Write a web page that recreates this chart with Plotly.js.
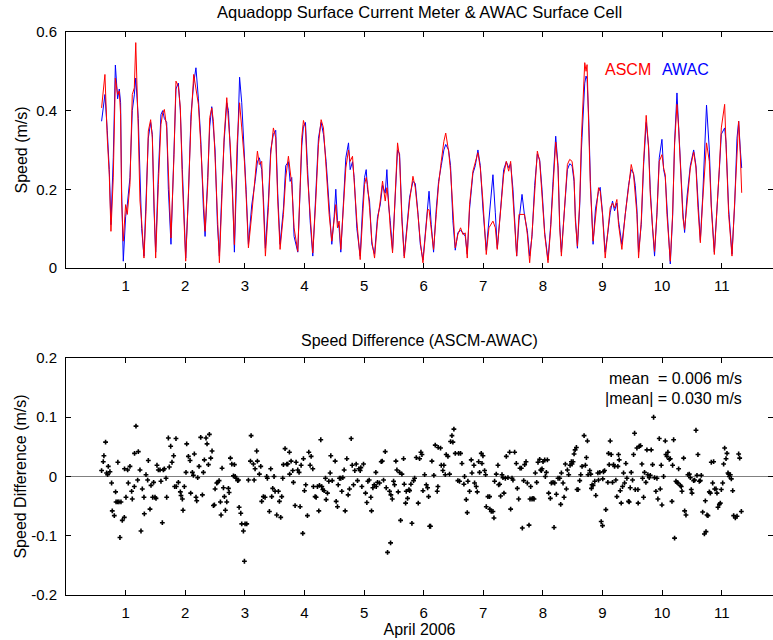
<!DOCTYPE html>
<html>
<head>
<meta charset="utf-8">
<script src="https://cdn.plot.ly/plotly-3.0.1.min.js"></script>
<style>html,body{margin:0;padding:0;background:#fff;}#chart{width:773px;height:640px;}</style>
</head>
<body>
<div id="chart"></div>
<script>
// ---- Top panel: surface speed (m/s) vs day of April 2006 ----
var topDays = [0.597,0.653,0.692,0.726,0.754,0.793,0.828,0.866,0.894,0.916,0.933,0.961,1.000,1.028,1.073,1.112,1.146,1.170,1.213,1.241,1.269,1.308,1.342,1.381,1.420,1.448,1.476,1.504,1.549,1.593,1.622,1.650,1.689,1.717,1.761,1.812,1.845,1.885,1.918,1.952,2.008,2.053,2.097,2.142,2.180,2.221,2.260,2.305,2.333,2.377,2.411,2.445,2.473,2.501,2.540,2.573,2.613,2.652,2.697,2.725,2.758,2.792,2.825,2.870,2.912,2.948,2.993,3.021,3.060,3.116,3.172,3.211,3.244,3.283,3.311,3.345,3.395,3.434,3.479,3.518,3.552,3.591,3.647,3.686,3.731,3.759,3.787,3.826,3.888,3.927,3.955,3.983,4.017,4.050,4.095,4.140,4.190,4.235,4.280,4.319,4.364,4.414,4.459,4.498,4.526,4.554,4.582,4.610,4.655,4.694,4.739,4.767,4.806,4.834,4.879,4.935,4.974,5.008,5.036,5.058,5.092,5.131,5.176,5.226,5.271,5.310,5.355,5.383,5.411,5.439,5.478,5.523,5.562,5.596,5.635,5.674,5.719,5.764,5.820,5.859,5.904,5.943,5.988,6.027,6.066,6.090,6.127,6.166,6.211,6.250,6.295,6.339,6.370,6.418,6.451,6.490,6.530,6.574,6.619,6.658,6.698,6.731,6.770,6.826,6.866,6.910,6.950,6.994,7.050,7.095,7.162,7.202,7.235,7.291,7.342,7.386,7.426,7.459,7.498,7.560,7.599,7.650,7.694,7.739,7.778,7.817,7.862,7.907,7.946,7.985,8.030,8.086,8.131,8.170,8.215,8.254,8.282,8.310,8.366,8.411,8.450,8.489,8.523,8.545,8.579,8.618,8.646,8.674,8.702,8.724,8.741,8.769,8.797,8.842,8.882,8.933,8.961,9.000,9.045,9.090,9.129,9.168,9.202,9.241,9.269,9.325,9.381,9.437,9.482,9.521,9.549,9.577,9.605,9.650,9.689,9.733,9.773,9.801,9.840,9.873,9.913,9.952,9.997,10.025,10.053,10.081,10.137,10.176,10.209,10.249,10.277,10.316,10.349,10.377,10.417,10.473,10.529,10.568,10.601,10.641,10.680,10.745,10.792,10.825,10.876,10.920,10.960,10.993,11.049,11.072,11.116,11.172,11.217,11.256,11.284,11.312,11.335];
var ascmSpeed = [0.407,0.492,0.331,0.237,0.093,0.229,0.483,0.441,0.450,0.390,0.170,0.068,0.161,0.136,0.212,0.441,0.458,0.573,0.348,0.170,0.119,0.025,0.144,0.348,0.377,0.331,0.170,0.025,0.212,0.365,0.394,0.403,0.356,0.229,0.076,0.288,0.475,0.462,0.407,0.221,0.017,0.187,0.373,0.492,0.460,0.416,0.314,0.178,0.093,0.212,0.382,0.407,0.373,0.280,0.136,0.013,0.170,0.331,0.433,0.382,0.305,0.187,0.059,0.314,0.420,0.356,0.271,0.187,0.051,0.136,0.237,0.297,0.263,0.271,0.161,0.030,0.153,0.288,0.356,0.331,0.170,0.047,0.136,0.229,0.284,0.246,0.212,0.102,0.042,0.204,0.331,0.375,0.356,0.237,0.136,0.038,0.170,0.314,0.377,0.356,0.254,0.136,0.068,0.119,0.161,0.102,0.119,0.047,0.170,0.254,0.300,0.271,0.284,0.212,0.119,0.021,0.136,0.212,0.230,0.212,0.153,0.068,0.025,0.119,0.170,0.221,0.170,0.204,0.170,0.102,0.038,0.212,0.318,0.280,0.119,0.025,0.102,0.170,0.233,0.204,0.136,0.068,0.013,0.085,0.148,0.148,0.093,0.047,0.136,0.212,0.271,0.322,0.343,0.297,0.246,0.136,0.051,0.085,0.102,0.085,0.089,0.025,0.161,0.246,0.271,0.293,0.254,0.170,0.034,0.102,0.119,0.102,0.047,0.153,0.237,0.271,0.246,0.271,0.187,0.030,0.136,0.136,0.136,0.085,0.013,0.085,0.204,0.297,0.271,0.195,0.085,0.013,0.102,0.204,0.320,0.254,0.102,0.030,0.170,0.263,0.276,0.271,0.229,0.119,0.055,0.170,0.331,0.424,0.522,0.500,0.517,0.356,0.204,0.068,0.136,0.204,0.195,0.136,0.025,0.102,0.153,0.165,0.153,0.174,0.110,0.047,0.136,0.204,0.263,0.237,0.195,0.136,0.025,0.119,0.271,0.388,0.305,0.187,0.102,0.042,0.136,0.271,0.288,0.254,0.237,0.136,0.017,0.136,0.314,0.416,0.356,0.229,0.127,0.098,0.170,0.254,0.295,0.254,0.153,0.064,0.170,0.318,0.271,0.153,0.034,0.136,0.254,0.356,0.416,0.314,0.136,0.030,0.170,0.322,0.373,0.288,0.191];
var awacSpeed = [0.373,0.441,0.350,0.250,0.110,0.280,0.516,0.430,0.455,0.420,0.200,0.017,0.130,0.160,0.230,0.400,0.440,0.483,0.380,0.200,0.100,0.030,0.160,0.330,0.370,0.340,0.150,0.040,0.240,0.390,0.400,0.380,0.370,0.200,0.060,0.300,0.455,0.470,0.400,0.250,0.025,0.180,0.390,0.470,0.509,0.430,0.330,0.150,0.080,0.230,0.360,0.410,0.360,0.300,0.110,0.030,0.190,0.320,0.420,0.400,0.290,0.200,0.040,0.300,0.485,0.420,0.300,0.200,0.060,0.160,0.220,0.270,0.280,0.250,0.180,0.050,0.170,0.300,0.340,0.350,0.190,0.060,0.150,0.260,0.270,0.220,0.230,0.080,0.040,0.190,0.310,0.360,0.370,0.260,0.120,0.030,0.180,0.330,0.370,0.340,0.270,0.150,0.060,0.130,0.200,0.120,0.100,0.040,0.190,0.280,0.318,0.250,0.270,0.230,0.100,0.030,0.150,0.230,0.250,0.200,0.170,0.060,0.035,0.130,0.160,0.210,0.190,0.250,0.160,0.120,0.045,0.200,0.300,0.290,0.130,0.030,0.110,0.180,0.220,0.215,0.140,0.060,0.020,0.090,0.170,0.195,0.110,0.040,0.150,0.220,0.260,0.300,0.314,0.300,0.260,0.120,0.045,0.090,0.095,0.090,0.080,0.035,0.150,0.240,0.260,0.300,0.260,0.150,0.045,0.130,0.237,0.140,0.050,0.150,0.250,0.270,0.255,0.265,0.200,0.030,0.120,0.187,0.130,0.095,0.030,0.080,0.210,0.290,0.275,0.200,0.090,0.020,0.110,0.220,0.335,0.260,0.110,0.040,0.160,0.250,0.265,0.260,0.220,0.130,0.050,0.160,0.300,0.400,0.470,0.488,0.480,0.380,0.220,0.060,0.150,0.195,0.205,0.140,0.040,0.090,0.140,0.170,0.145,0.165,0.120,0.060,0.130,0.210,0.250,0.240,0.210,0.150,0.040,0.110,0.260,0.370,0.310,0.200,0.100,0.030,0.140,0.280,0.327,0.250,0.230,0.160,0.010,0.130,0.320,0.445,0.360,0.220,0.140,0.090,0.180,0.260,0.300,0.260,0.160,0.070,0.180,0.414,0.300,0.160,0.040,0.140,0.250,0.340,0.356,0.320,0.150,0.035,0.160,0.330,0.373,0.300,0.254];

// ---- Bottom panel: speed difference ASCM-AWAC (m/s) ----
var diffDays = [
0.597,0.625,0.636,0.664,0.681,0.698,0.709,0.737,0.765,0.776,0.810,0.832,0.840,0.866,0.888,0.922,0.870,0.905,0.944,0.978,0.982,1.006,1.034,1.045,1.073,1.101,1.112,1.146,1.150,1.174,1.213,1.202,1.241,1.258,1.280,1.308,1.314,1.342,1.370,1.381,1.409,1.426,1.454,1.470,1.493,1.510,1.526,1.549,1.577,1.593,1.616,1.633,1.650,1.678,1.689,1.717,1.733,1.756,1.778,1.806,1.823,1.845,1.850,1.885,1.918,1.929,1.952,1.963,1.985,2.025,2.013,2.053,2.081,2.092,2.120,2.137,2.153,2.181,2.193,2.209,2.232,2.260,2.288,2.305,2.321,2.349,2.366,2.389,2.405,2.428,2.450,2.473,2.489,2.501,2.529,2.545,2.568,2.590,2.601,2.618,2.641,2.657,2.674,2.697,2.725,2.736,2.758,2.781,2.825,2.809,2.837,2.853,2.881,2.893,2.904,2.932,2.948,2.976,2.993,3.004,3.032,3.060,3.094,3.105,3.144,3.172,3.156,
3.199,3.211,3.244,3.267,3.283,3.311,3.339,3.367,3.378,3.412,3.434,3.451,3.468,3.490,3.507,3.535,3.563,3.580,3.602,3.619,3.636,3.647,3.675,3.703,3.720,3.748,3.752,3.776,3.804,3.815,3.843,3.860,3.888,3.910,3.927,3.944,3.972,3.983,4.000,4.022,4.050,4.073,4.095,4.112,4.140,4.151,4.179,4.196,4.218,4.241,4.252,4.274,4.291,4.308,4.330,4.353,4.364,4.386,4.409,4.431,4.442,4.465,4.515,4.532,4.554,4.566,4.588,4.610,4.627,4.644,4.666,4.683,4.711,4.733,4.756,4.784,4.801,4.823,4.845,4.868,4.890,4.913,4.935,4.946,4.963,4.991,5.025,5.047,5.064,5.086,5.114,5.125,5.148,5.170,5.198,5.204,5.226,5.260,5.288,5.305,5.327,5.355,5.372,5.394,5.428,5.445,5.450,5.473,5.495,5.512,5.534,5.551,5.573,5.596,5.613,5.635,5.663,5.674,5.697,5.708,5.730,5.753,5.764,5.786,5.803,5.831,5.848,5.876,5.909,5.932,5.954,5.971,5.988,6.016,6.044,6.066,6.083,6.100,
6.115,6.138,6.171,6.194,6.227,6.239,6.243,6.283,6.295,6.322,6.339,6.362,6.378,6.407,6.434,6.451,6.474,6.490,6.507,6.530,6.574,6.586,6.602,6.619,6.642,6.675,6.686,6.714,6.731,6.742,6.770,6.798,6.810,6.843,6.854,6.882,6.899,6.922,6.938,6.966,6.978,6.994,7.022,7.039,7.050,7.078,7.106,7.110,7.134,7.162,7.179,7.190,7.218,7.246,7.258,7.274,7.291,7.314,7.330,7.347,7.370,7.386,7.414,7.442,7.459,7.482,7.498,7.526,7.554,7.571,7.594,7.616,7.638,7.655,7.678,7.694,7.717,7.739,7.767,7.784,7.795,7.817,7.834,7.851,7.873,7.896,7.918,7.946,7.963,7.974,7.985,8.002,8.030,8.041,8.058,8.075,8.097,8.125,8.142,8.170,8.187,8.198,8.226,8.254,8.282,8.299,8.310,8.338,8.355,8.377,8.394,8.411,8.433,8.456,8.478,8.489,8.506,8.523,8.540,8.562,8.573,8.590,8.618,8.635,8.657,8.691,8.713,8.730,8.747,8.758,8.786,8.803,8.814,8.825,8.842,8.870,
8.888,8.922,8.933,8.955,8.978,9.000,9.004,9.017,9.034,9.056,9.090,9.101,9.112,9.129,9.146,9.168,9.185,9.202,9.224,9.241,9.258,9.269,9.280,9.297,9.314,9.336,9.353,9.370,9.392,9.409,9.437,9.448,9.465,9.482,9.504,9.521,9.538,9.549,9.577,9.594,9.598,9.616,9.638,9.661,9.672,9.689,9.705,9.728,9.745,9.761,9.784,9.801,9.817,9.840,9.857,9.873,9.896,9.913,9.929,9.952,9.969,9.985,9.997,10.025,10.053,10.064,10.081,10.097,10.120,10.137,10.165,10.176,10.193,10.209,10.232,10.249,10.265,10.277,10.305,10.321,10.333,10.361,10.378,10.400,10.433,10.456,10.473,10.489,10.501,10.529,10.545,10.568,10.585,10.601,10.624,10.641,10.657,10.680,10.709,10.725,10.736,10.753,10.769,10.792,10.809,10.825,10.848,10.864,10.881,10.904,10.920,10.937,10.960,10.976,10.993,11.016,11.032,11.049,11.072,11.088,11.105,11.116,11.128,11.144,11.161,11.184,11.200,11.228,11.256,11.284,11.301,11.329];
var diffVals = [
0.010,0.025,0.035,0.058,0.006,0.003,0.017,0.008,-0.011,-0.058,-0.066,-0.026,-0.043,-0.043,-0.043,-0.043,0.024,-0.103,-0.074,-0.069,0.013,-0.035,0.011,-0.011,0.017,-0.025,-0.038,-0.017,0.039,0.085,0.042,-0.006,0.011,-0.092,-0.021,-0.035,-0.063,0.003,-0.006,0.027,-0.055,-0.015,-0.035,-0.010,-0.035,-0.037,0.019,0.011,0.011,-0.008,-0.078,0.011,0.013,-0.003,-0.035,0.065,0.016,0.051,0.024,0.035,-0.017,0.064,-0.017,-0.010,-0.026,-0.032,-0.038,-0.057,-0.017,0.055,0.007,0.034,0.027,-0.028,0.007,0.002,0.038,-0.035,-0.041,-0.002,0.017,0.066,-0.031,0.007,0.028,0.065,0.055,0.020,0.071,0.031,0.043,-0.049,-0.048,-0.021,-0.011,-0.010,-0.007,-0.043,-0.065,0.014,-0.019,-0.034,-0.057,-0.043,-0.020,-0.027,0.031,0.021,0.020,0.001,0.000,-0.003,-0.007,-0.006,-0.052,-0.062,-0.080,-0.092,-0.143,-0.080,-0.080,-0.006,0.026,0.069,0.021,0.013,-0.006,
0.043,0.026,0.004,0.017,-0.042,-0.034,-0.035,0.000,-0.003,-0.059,0.013,-0.034,-0.020,0.000,-0.025,-0.065,-0.025,-0.042,-0.069,-0.034,-0.003,0.020,0.047,0.021,0.021,0.041,0.004,0.026,0.010,-0.010,-0.049,0.024,0.011,0.007,-0.051,0.019,-0.096,0.030,-0.024,-0.014,-0.066,0.041,0.019,0.034,0.013,-0.017,-0.034,-0.035,-0.017,-0.058,-0.015,0.062,-0.017,-0.022,-0.024,-0.003,-0.039,-0.028,-0.008,0.006,0.035,-0.007,0.026,-0.042,-0.051,-0.014,-0.003,-0.003,-0.025,-0.002,0.011,-0.058,0.030,-0.031,-0.021,0.064,0.019,-0.014,0.010,0.021,-0.007,0.013,0.010,0.015,-0.017,0.021,-0.028,-0.044,-0.008,-0.006,-0.035,-0.058,-0.019,-0.014,0.007,-0.017,-0.010,-0.011,0.025,0.026,-0.006,0.042,-0.019,-0.128,-0.025,-0.112,-0.031,-0.038,-0.008,-0.014,0.026,0.011,-0.026,0.007,-0.074,0.004,0.030,-0.013,-0.045,-0.025,-0.037,-0.022,-0.024,-0.013,-0.079,-0.007,-0.003,0.032,-0.045,0.030,0.041,0.037,-0.024,0.003,-0.014,-0.019,-0.034,-0.084,
-0.084,0.026,0.002,0.053,-0.025,-0.017,0.049,0.048,0.019,0.010,0.019,0.003,0.037,0.034,0.004,0.059,0.069,0.058,0.080,0.039,-0.007,0.039,-0.008,0.039,0.022,-0.013,0.000,-0.039,-0.061,-0.008,-0.025,0.028,0.006,0.019,-0.011,-0.017,-0.026,0.025,0.007,0.039,0.022,0.035,0.010,0.003,-0.051,-0.034,-0.034,-0.055,-0.059,-0.059,-0.070,-0.008,0.004,0.019,-0.014,-0.013,-0.033,0.003,-0.002,-0.028,-0.003,0.034,-0.002,0.041,-0.055,-0.003,-0.006,0.041,0.022,-0.020,-0.038,0.014,0.014,-0.087,-0.007,0.020,0.025,-0.011,-0.082,-0.038,-0.017,-0.038,-0.037,-0.038,0.006,-0.010,0.024,0.029,0.011,0.010,0.013,0.025,0.028,0.000,0.007,0.028,-0.028,-0.037,-0.011,-0.010,-0.086,-0.011,-0.030,-0.003,-0.003,-0.047,0.006,-0.011,-0.035,0.021,-0.021,0.011,0.003,0.019,0.025,0.021,0.025,0.038,0.045,0.049,-0.022,-0.022,-0.007,0.003,0.017,0.069,0.019,0.032,0.060,0.003,0.010,0.004,-0.020,-0.014,-0.015,-0.008,
-0.032,0.006,-0.006,0.007,-0.076,-0.083,-0.004,0.008,0.010,-0.056,-0.010,0.039,0.020,0.060,0.037,-0.010,0.020,0.017,-0.006,-0.034,0.017,0.037,0.028,-0.024,-0.045,-0.017,0.006,-0.011,0.022,-0.003,-0.042,-0.043,-0.019,0.007,-0.006,0.037,0.073,-0.022,0.048,-0.022,-0.045,0.051,0.052,0.021,-0.003,-0.035,0.007,-0.010,0.045,0.003,-0.002,0.002,0.045,0.020,0.100,-0.002,-0.025,-0.003,-0.038,0.064,-0.021,0.019,-0.048,0.000,0.060,0.037,0.034,0.041,0.029,0.030,-0.042,0.019,0.062,-0.104,-0.008,-0.010,-0.011,0.013,-0.015,-0.017,-0.025,0.031,-0.058,-0.065,0.003,0.004,-0.002,-0.022,-0.028,-0.007,-0.006,0.078,0.002,0.037,-0.008,-0.007,0.002,-0.060,-0.097,-0.041,-0.093,-0.065,-0.066,-0.026,-0.028,0.024,-0.011,0.025,-0.021,-0.021,-0.028,-0.052,-0.047,-0.045,-0.022,-0.011,0.021,0.048,0.030,0.039,0.006,0.004,0.000,0.003,-0.004,-0.024,-0.066,-0.070,-0.067,0.038,0.031,-0.059];

var xTicks = [1,2,3,4,5,6,7,8,9,10,11];
var yTicksTop = [0,0.2,0.4,0.6];
var yTickTextTop = ['0','0.2','0.4','0.6'];
var yTicksBot = [-0.2,-0.1,0,0.1,0.2];
var yTickTextBot = ['-0.2','-0.1','0','0.1','0.2'];

var FONT = 'Liberation Sans, Arial, Helvetica, sans-serif';
var TICKSIZE = 15, TEXTSIZE = 16;

var traces = [
  {x: topDays, y: awacSpeed, type: 'scatter', mode: 'lines', name: 'AWAC',
   line: {color: '#0000FF', width: 1}, xaxis: 'x', yaxis: 'y'},
  {x: topDays, y: ascmSpeed, type: 'scatter', mode: 'lines', name: 'ASCM',
   line: {color: '#FF0000', width: 1}, xaxis: 'x', yaxis: 'y'},
  {x: diffDays, y: diffVals, type: 'scatter', mode: 'markers', name: 'ASCM-AWAC',
   marker: {symbol: 'cross', size: 4, color: '#000000', line: {width: 0}}, xaxis: 'x2', yaxis: 'y2'}
];

function xax(anchor, extra) {
  var o = {anchor: anchor, domain: [0, 1], range: [0, 11.86], tickmode: 'array', tickvals: xTicks,
    ticks: 'inside', ticklen: 5, tickcolor: '#000', tickwidth: 1, ticklabelstandoff: 4,
    showline: true, linecolor: '#000', linewidth: 1, mirror: 'ticks', showgrid: false, zeroline: false,
    tickfont: {family: FONT, size: TICKSIZE, color: '#000'}};
  for (var k in extra) o[k] = extra[k];
  return o;
}
function yax(anchor, domain, range, vals, texts, extra) {
  var o = {anchor: anchor, domain: domain, range: range, tickmode: 'array', tickvals: vals, ticktext: texts,
    ticks: 'inside', ticklen: 5, tickcolor: '#000', tickwidth: 1, ticklabelstandoff: 5,
    showline: true, linecolor: '#000', linewidth: 1, mirror: 'ticks', showgrid: false,
    tickfont: {family: FONT, size: TICKSIZE, color: '#000'}};
  for (var k in extra) o[k] = extra[k];
  return o;
}

var layout = {
  width: 773, height: 640,
  margin: {l: 66, r: 0, t: 32, b: 45},
  paper_bgcolor: '#ffffff', plot_bgcolor: '#ffffff',
  showlegend: false,
  font: {family: FONT, size: TEXTSIZE, color: '#000'},
  xaxis: xax('y', {}),
  yaxis: yax('x', [0.581, 1], [0, 0.6], yTicksTop, yTickTextTop,
    {zeroline: false, title: {text: 'Speed (m/s)', standoff: 4, font: {family: FONT, size: TEXTSIZE, color: '#000'}}}),
  xaxis2: xax('y2', {title: {text: 'April 2006', standoff: 1, font: {family: FONT, size: TEXTSIZE, color: '#000'}}}),
  yaxis2: yax('x2', [0, 0.421], [-0.2, 0.2], yTicksBot, yTickTextBot,
    {zeroline: true, zerolinecolor: '#808080', zerolinewidth: 1,
     title: {text: 'Speed Difference (m/s)', standoff: 0, font: {family: FONT, size: TEXTSIZE, color: '#000'}}}),
  annotations: [
    {text: 'Aquadopp Surface Current Meter & AWAC Surface Cell', xref: 'paper', yref: 'paper',
     x: 0.5, y: 1.0355, xanchor: 'center', yanchor: 'middle', showarrow: false,
     font: {family: FONT, size: 16.5, color: '#000'}},
    {text: 'Speed Difference (ASCM-AWAC)', xref: 'paper', yref: 'paper',
     x: 0.5, y: 0.4512, xanchor: 'center', yanchor: 'middle', showarrow: false,
     font: {family: FONT, size: TEXTSIZE, color: '#000'}},
    {text: 'ASCM', xref: 'x', yref: 'y', x: 9.0, y: 0.504, xanchor: 'left', yanchor: 'middle',
     showarrow: false, font: {family: FONT, size: TEXTSIZE, color: '#FF0000'}},
    {text: 'AWAC', xref: 'x', yref: 'y', x: 9.97, y: 0.504, xanchor: 'left', yanchor: 'middle',
     showarrow: false, font: {family: FONT, size: TEXTSIZE, color: '#0000FF'}},
    {text: 'mean\u00a0\u00a0= 0.006 m/s', xref: 'x2', yref: 'y2', x: 11.37, y: 0.166, xanchor: 'right', yanchor: 'middle',
     showarrow: false, font: {family: FONT, size: TEXTSIZE, color: '#000'}},
    {text: '|mean| = 0.030 m/s', xref: 'x2', yref: 'y2', x: 11.37, y: 0.132, xanchor: 'right', yanchor: 'middle',
     showarrow: false, font: {family: FONT, size: TEXTSIZE, color: '#000'}}
  ]
};

Plotly.newPlot('chart', traces, layout, {displayModeBar: false, staticPlot: true});
</script>
</body>
</html>
